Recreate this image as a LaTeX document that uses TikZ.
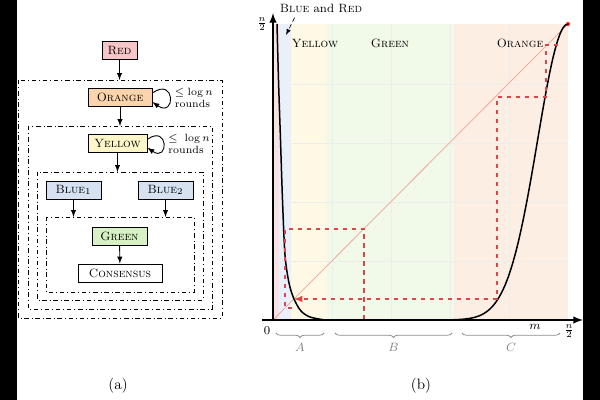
\documentclass[tikz,border=0pt]{standalone}
\usetikzlibrary{decorations.pathreplacing}
\usepackage{amsmath}
\definecolor{fillred}{HTML}{F6C5C7}
\definecolor{fillorange}{HTML}{FAD4AC}
\definecolor{fillyellow}{HTML}{FCF6C8}
\definecolor{fillblue}{HTML}{D6E2F1}
\definecolor{fillgreen}{HTML}{D8F1C4}
\definecolor{bandred}{HTML}{F8E2E2}
\definecolor{bandblue}{HTML}{EAF0F9}
\definecolor{bandyellow}{HTML}{FDF9E4}
\definecolor{bandgreen}{HTML}{F1F9E8}
\definecolor{bandorange}{HTML}{FCEEE2}
\definecolor{diagline}{HTML}{F2A39C}
\definecolor{cobweb}{HTML}{DC4646}

\begin{document}
\begin{tikzpicture}[x=0.6667pt,y=0.6667pt,>=latex,
  stage/.style={draw, semithick, minimum height=12pt, inner sep=1pt, font=\footnotesize},
  frame/.style={dash dot, line width=0.5pt},
  selfloop/.style={->, semithick, out=35, in=-35, looseness=8},
  rounds/.style={right, font=\scriptsize, align=left, inner sep=3pt},
  bandlabel/.style={font=\footnotesize},
  gridline/.style={black!7, line width=0.5pt},
  web/.style={dashed, cobweb, line width=0.9pt},
  zone/.style={decorate, decoration={brace, mirror, amplitude=3pt}, black!45, line width=0.5pt},
  zonelabel/.style={below=3pt, black!50, font=\footnotesize}]
\useasboundingbox (0,0) rectangle (600,-400);
\fill[black] (0,0) rectangle (17,-400);
\fill[black] (583,0) rectangle (600,-400);

%Cadres
\draw[frame] (18,-80) coordinate (fa) rectangle (222,-318);
\draw[frame] (28,-126) coordinate (fb) rectangle (212,-309);
\draw[frame] (37,-172) coordinate (fc) rectangle (203,-300);
\draw[frame] (46,-217) coordinate (fd) rectangle (194,-292);

%Etapes
\node[stage, fill=fillred, minimum width=23.3pt] (red) at (119.5,-50.5) {\textsc{Red}};
\node[stage, fill=fillorange, minimum width=42.7pt] (orange) at (120,-97.5) {\textsc{Orange}};
\node[stage, fill=fillyellow, minimum width=39.3pt] (yellow) at (117.5,-143.5) {\textsc{Yellow}};
\node[stage, fill=fillblue, minimum width=36.7pt] (blueone) at (73.5,-190) {\textsc{Blue}$_1$};
\node[stage, fill=fillblue, minimum width=36.7pt] (bluetwo) at (165.5,-190) {\textsc{Blue}$_2$};
\node[stage, fill=fillgreen, minimum width=36.7pt] (green) at (119.5,-236.5) {\textsc{Green}};
\node[stage, fill=white, minimum width=56pt] (consensus) at (120,-273) {\textsc{Consensus}};

\draw[->, semithick] (red) -- (red |- fa);
\draw[->, semithick] (orange) -- (orange |- fb);
\draw[->, semithick] (yellow) -- (yellow |- fc);
\draw[->, semithick] (blueone) -- (blueone |- fd);
\draw[->, semithick] (bluetwo) -- (bluetwo |- fd);
\draw[->, semithick] (green) -- (consensus);
\path (orange.8) edge[selfloop] node[rounds] {$\leq\log n$\\rounds} (orange.-8);
\path (yellow.8) edge[selfloop] node[rounds] {$\leq\;\log n$\\rounds} (yellow.-8);

\node (capa) at (118,-386) {(a)};

%Zones
\fill[bandred] (273,-24) rectangle (279,-320);
\fill[bandblue] (279,-24) rectangle (291,-320);
\fill[bandyellow] (291,-24) rectangle (327,-320);
\fill[bandgreen] (327,-24) rectangle (454,-320);
\fill[bandorange] (454,-24) rectangle (568,-320);
\foreach \gx in {332,391,450,509}
  \draw[gridline] (\gx,-24) -- (\gx,-320);
\foreach \gy in {84,143,202,261}
  \draw[gridline] (273,-\gy) -- (568,-\gy);

%Diagonale et courbe
\draw[diagline, line width=0.5pt] (273,-320) -- (568,-24);
\fill[red] (568,-24) circle (2);
\draw[line width=1pt] plot[smooth] coordinates {(277,-24) (278.5,-80) (280.5,-140) (282.5,-200) (285,-255) (289,-283) (294,-299) (301,-311) (310,-317) (325,-320)}
  -- (440,-320) -- plot[domain=440:568, samples=50] (\x,{-320+296*exp(-47*((568-\x)/295)^2)});

%Iterations
\draw[web] (364,-320) -- (364,-229) -- (285,-229) -- (285,-308) -- (297,-308);
\draw[web, ->] (558,-45) -- (546,-45) -- (546,-97) -- (497,-97) -- (497,-299) -- (294,-299);

%Axes
\draw[->, line width=1.2pt] (262,-320) -- (583,-320);
\draw[->, line width=1.2pt] (273,-320) -- (273,-13);
\node (zero) at (267,-331) {\footnotesize $0$};
\node (mlabel) at (535,-327) {\footnotesize $m$};
\node (xmax) at (569,-331) {\footnotesize $\frac{n}{2}$};
\node (ymax) at (262,-24) {\footnotesize $\frac{n}{2}$};

%Etiquettes
\node[bandlabel] (lblyellow) at (315,-43) {\textsc{Yellow}};
\node[bandlabel] (lblgreen) at (390,-43) {\textsc{Green}};
\node[bandlabel] (lblorange) at (520,-43) {\textsc{Orange}};
\node[bandlabel] (lblbluered) at (321,-8) {\textsc{Blue} and \textsc{Red}};
\coordinate (bluered) at (286,-35);
\draw[->, densely dashed, line width=0.4pt] (lblbluered.-160) -- (bluered);

\draw[zone] (276,-333) -- (324,-333) node[midway, zonelabel] {$A$};
\draw[zone] (335,-333) -- (452,-333) node[midway, zonelabel] {$B$};
\draw[zone] (462,-333) -- (560,-333) node[midway, zonelabel] {$C$};

\node (capb) at (421,-386) {(b)};
\end{tikzpicture}
\end{document}
